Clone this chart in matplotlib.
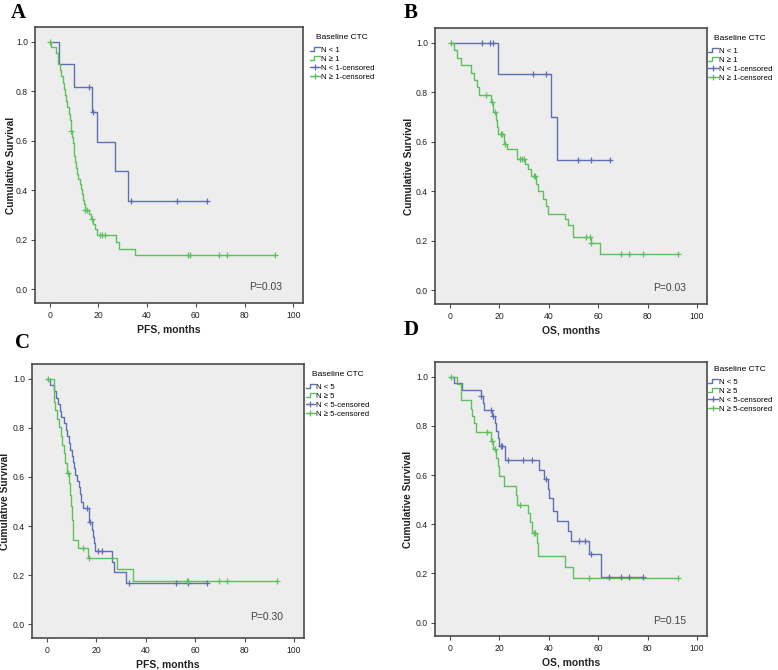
import numpy as np
import matplotlib
matplotlib.use("Agg")
import matplotlib.pyplot as plt
from matplotlib.lines import Line2D
from matplotlib.legend_handler import HandlerBase

plt.rcParams['font.family'] = ['Liberation Sans', 'DejaVu Sans']

# ---------------- data ----------------
# Panel A: PFS, baseline CTC N<1 vs N>=1
A_lo_t = [0, 3.7, 10.0, 17.5, 19.5, 26.7, 32.2]
A_lo_s = [1.0, 0.909, 0.818, 0.716, 0.596, 0.477, 0.358]
A_lo_end = 64.7
A_lo_cens = [16.3, 17.9, 33.6, 52.2, 64.7]

A_hi_t = [0, 0.7, 2.6, 3.5, 4.2, 4.8, 5.3, 5.8, 6.3, 6.8, 7.3, 7.8, 8.2, 8.6, 9.2, 9.6,
          9.9, 10.2, 10.5, 10.8, 11.1, 11.5, 12.3, 12.8, 13.2, 13.6, 14.0, 14.4, 16.0,
          16.8, 17.8, 18.5, 19.3, 27.3, 28.5, 35.0]
A_hi_s = [1.0, 0.98, 0.955, 0.91, 0.885, 0.86, 0.835, 0.81, 0.785, 0.76, 0.735, 0.71,
          0.685, 0.64, 0.615, 0.59, 0.565, 0.54, 0.515, 0.49, 0.465, 0.445, 0.425, 0.405,
          0.385, 0.36, 0.345, 0.32, 0.305, 0.285, 0.265, 0.245, 0.22, 0.193, 0.165, 0.138]
A_hi_end = 92.5
A_hi_cens = [0.3, 8.6, 14.6, 15.2, 17.2, 20.6, 21.3, 22.7, 56.6, 57.5, 69.5, 73.0, 92.5]

# Panel B: OS, baseline CTC N<1 vs N>=1
B_lo_t = [0, 19.5, 40.8, 43.4]
B_lo_s = [1.0, 0.875, 0.70, 0.525]
B_lo_end = 64.7
B_lo_cens = [12.9, 16.3, 17.5, 33.5, 38.9, 52.0, 57.3, 64.7]

B_hi_t = [0, 1.5, 3.0, 4.5, 8.4, 9.8, 10.9, 12.0, 16.6, 17.6, 18.6, 19.0, 19.5, 22.0,
          23.3, 27.1, 30.3, 31.5, 32.8, 34.9, 35.8, 37.6, 39.0, 39.6, 46.4, 47.8, 49.8,
          57.0, 60.9]
B_hi_s = [1.0, 0.97, 0.94, 0.91, 0.88, 0.85, 0.82, 0.79, 0.76, 0.72, 0.69, 0.66, 0.63,
          0.59, 0.57, 0.53, 0.51, 0.49, 0.46, 0.43, 0.40, 0.37, 0.34, 0.31, 0.29, 0.265,
          0.215, 0.19, 0.148]
B_hi_end = 92.3
B_hi_cens = [0.3, 14.6, 17.2, 18.2, 20.6, 21.3, 22.4, 28.5, 29.2, 30.1, 33.9, 34.5,
             55.2, 56.6, 57.3, 69.2, 72.5, 78.3, 92.3]

# Panel C: PFS, baseline CTC N<5 vs N>=5
C_lo_t = [0, 1.1, 3.1, 3.8, 4.5, 5.2, 5.9, 7.0, 7.6, 8.3, 8.9, 9.4, 10.0, 10.4, 10.9,
          11.6, 12.4, 13.0, 13.4, 13.8, 14.7, 17.0, 18.1, 18.6, 19.0, 19.5, 26.5, 27.3,
          32.0]
C_lo_s = [1.0, 0.975, 0.95, 0.92, 0.895, 0.87, 0.845, 0.82, 0.79, 0.765, 0.74, 0.71,
          0.685, 0.66, 0.635, 0.61, 0.585, 0.56, 0.53, 0.50, 0.475, 0.415, 0.385, 0.355,
          0.33, 0.30, 0.255, 0.213, 0.17]
C_lo_end = 64.8
C_lo_cens = [16.1, 17.5, 20.8, 22.4, 33.4, 52.3, 57.3, 64.8]

C_hi_t = [0, 2.9, 3.5, 4.2, 4.9, 5.6, 6.3, 7.0, 7.5, 8.2, 8.9, 9.2, 9.6, 10.0, 10.5,
          12.7, 16.8, 28.3, 35.0]
C_hi_s = [1.0, 0.905, 0.874, 0.838, 0.804, 0.766, 0.73, 0.696, 0.655, 0.615, 0.574,
          0.527, 0.48, 0.426, 0.345, 0.31, 0.27, 0.225, 0.178]
C_hi_end = 92.9
C_hi_cens = [0.3, 8.6, 14.7, 17.1, 56.8, 57.3, 69.7, 73.0, 92.9]

# Panel D: OS, baseline CTC N<5 vs N>=5
D_lo_t = [0, 1.6, 5.0, 12.5, 13.3, 14.0, 17.2, 18.2, 18.8, 19.5, 20.0, 22.4, 36.2,
          37.9, 39.6, 40.3, 41.7, 43.3, 47.8, 49.1, 56.3, 61.1]
D_lo_s = [1.0, 0.975, 0.948, 0.92, 0.893, 0.865, 0.84, 0.81, 0.78, 0.75, 0.72, 0.662,
          0.62, 0.585, 0.545, 0.505, 0.455, 0.415, 0.372, 0.33, 0.28, 0.185]
D_lo_end = 78.3
D_lo_cens = [12.8, 16.6, 17.6, 20.5, 21.2, 23.4, 29.5, 33.3, 38.7, 52.1, 54.8, 57.0,
             64.3, 69.2, 72.6, 78.3]

D_hi_t = [0, 3.0, 4.6, 8.4, 9.1, 9.8, 10.4, 16.6, 17.6, 18.6, 19.3, 19.9, 22.0, 26.7,
          27.1, 31.5, 32.4, 33.2, 35.1, 35.8, 46.7, 49.8]
D_hi_s = [1.0, 0.97, 0.905, 0.87, 0.84, 0.81, 0.775, 0.74, 0.705, 0.67, 0.635, 0.595,
          0.555, 0.52, 0.48, 0.445, 0.41, 0.365, 0.325, 0.27, 0.225, 0.18]
D_hi_end = 92.3
D_hi_cens = [0.3, 14.9, 16.9, 18.2, 28.5, 34.0, 34.6, 56.2, 92.3]

panel_letters = ["A", "B", "C", "D"]
x_labels = ["PFS, months", "OS, months", "PFS, months", "OS, months"]
p_values = ["P=0.03", "P=0.03", "P=0.30", "P=0.15"]
cutoffs = ["1", "1", "5", "5"]
legend_title = "Baseline CTC"
x_ticks = [0, 20, 40, 60, 80, 100]
y_ticks = [0.0, 0.2, 0.4, 0.6, 0.8, 1.0]

# ---------------- styling ----------------
BLUE = "#5f6fb4"
GREEN = "#5cc05c"
BG = "#ededed"
SPINE = "#4a4a4a"


class HandlerStep(HandlerBase):
    def create_artists(self, legend, orig_handle, xdescent, ydescent, width, height,
                       fontsize, trans):
        x0, y0 = -xdescent, -ydescent
        xm = x0 + 0.45 * width
        xs = [x0, xm, xm, x0 + width]
        ys = [y0 + 0.15 * height, y0 + 0.15 * height, y0 + 0.85 * height, y0 + 0.85 * height]
        ln = Line2D(xs, ys, color=orig_handle.get_color(), lw=orig_handle.get_linewidth())
        ln.set_transform(trans)
        return [ln]


def draw_curve(ax, t, s, end, cens, color):
    xs = list(t) + [end]
    ys = list(s) + [s[-1]]
    ax.step(xs, ys, where="post", color=color, lw=1.0, zorder=3)
    t_arr = np.asarray(t)
    s_arr = np.asarray(s)
    cy = [s_arr[np.searchsorted(t_arr, c, side="right") - 1] for c in cens]
    ax.plot(cens, cy, linestyle="none", marker="+", color=color, ms=5, mew=0.9, zorder=4)


fig = plt.figure(figsize=(7.78, 6.70), dpi=100)
fig.patch.set_facecolor("white")

positions = [
    [0.045, 0.5478, 0.3445, 0.412],
    [0.5591, 0.5463, 0.3496, 0.412],
    [0.0411, 0.0478, 0.3496, 0.409],
    [0.5591, 0.0507, 0.3496, 0.409],
]
ylabel_x = [-0.071, -0.076, -0.080, -0.081]
legend_x = [1.026, 1.004, 1.006, 1.004]
legend_y = [0.975, 0.975, 0.975, 0.985]
letter_pos = [(0.014, 0.995), (0.519, 0.995), (0.019, 0.503), (0.519, 0.522)]
p_y = [0.008, 0.008, 0.03, 0.008]

curves = [
    ((A_lo_t, A_lo_s, A_lo_end, A_lo_cens), (A_hi_t, A_hi_s, A_hi_end, A_hi_cens)),
    ((B_lo_t, B_lo_s, B_lo_end, B_lo_cens), (B_hi_t, B_hi_s, B_hi_end, B_hi_cens)),
    ((C_lo_t, C_lo_s, C_lo_end, C_lo_cens), (C_hi_t, C_hi_s, C_hi_end, C_hi_cens)),
    ((D_lo_t, D_lo_s, D_lo_end, D_lo_cens), (D_hi_t, D_hi_s, D_hi_end, D_hi_cens)),
]

for i in range(4):
    ax = fig.add_axes(positions[i])
    ax.set_facecolor(BG)
    lo, hi = curves[i]
    draw_curve(ax, *lo, BLUE)
    draw_curve(ax, *hi, GREEN)

    ax.set_xlim(-6, 104)
    ax.set_ylim(-0.055, 1.06)
    ax.set_xticks(x_ticks)
    ax.set_yticks(y_ticks)
    ax.set_yticklabels([f"{v:.1f}" for v in y_ticks])
    ax.tick_params(axis="both", direction="out", length=3, width=0.8, color=SPINE,
                   labelsize=6.2, labelcolor="#222222")
    ax.tick_params(axis="x", pad=2.5)
    ax.tick_params(axis="y", pad=2.0)
    for sp in ax.spines.values():
        sp.set_color(SPINE)
        sp.set_linewidth(1.2)

    ax.set_xlabel(x_labels[i], fontsize=7.5, fontweight="bold", labelpad=3.5, color="#222222")
    ax.set_ylabel("Cumulative Survival", fontsize=7.3, fontweight="bold", color="#222222")
    ax.yaxis.set_label_coords(ylabel_x[i], 0.5)

    ax.text(95.5, p_y[i], p_values[i], ha="right", va="center", fontsize=7.5,
            color="#444444")

    c = cutoffs[i]
    h1 = Line2D([], [], color=BLUE, lw=1.0)
    h2 = Line2D([], [], color=GREEN, lw=1.0)
    h3 = Line2D([], [], color=BLUE, lw=1.0, marker="+", ms=5, mew=0.9)
    h4 = Line2D([], [], color=GREEN, lw=1.0, marker="+", ms=5, mew=0.9)
    leg = ax.legend([h1, h2, h3, h4],
                    [f"N < {c}", f"N \u2265 {c}", f"N < {c}-censored", f"N \u2265 {c}-censored"],
                    handler_map={h1: HandlerStep(), h2: HandlerStep()},
                    loc="upper left", bbox_to_anchor=(legend_x[i], legend_y[i]), frameon=False,
                    fontsize=5.6, title=legend_title, title_fontsize=6.0,
                    handlelength=1.25, handletextpad=0.15, labelspacing=0.2,
                    borderpad=0, borderaxespad=0, numpoints=1)
    leg._legend_box.sep = 4

    fig.text(letter_pos[i][0], letter_pos[i][1], panel_letters[i], ha="left", va="top",
             fontsize=15, fontweight="bold", family="Liberation Serif")

fig.savefig("out.png", dpi=100, facecolor="white")
